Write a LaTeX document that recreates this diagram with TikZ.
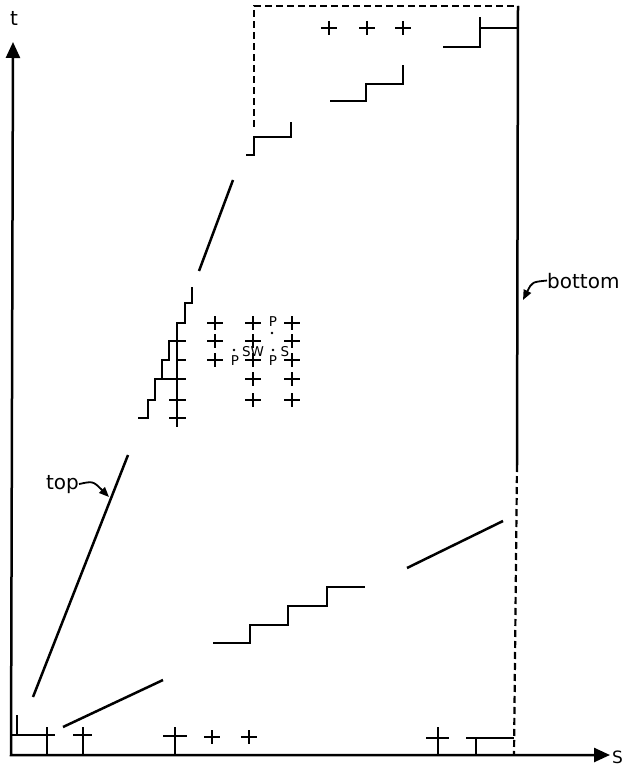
\documentclass[tikz,border=0pt]{standalone}
\usepackage{fontspec}
\setmainfont{DejaVu Sans}
\usetikzlibrary{arrows.meta}
\begin{document}
\begin{tikzpicture}[x=1pt,y=-1pt,
  ln/.style={line width=2.5pt},
  thn/.style={line width=2.2pt},
  dsh/.style={line width=2.2pt,dash pattern=on 7pt off 4pt},
  lbl/.style={font=\fontsize{20}{20}\selectfont,inner sep=0pt},
  sm/.style={font=\fontsize{13.5}{13.5}\selectfont,inner sep=0pt},
  dot/.style={circle,fill,inner sep=0pt,minimum size=2.8pt},
  crs/.pic={\draw[thn] (-8,0)--(8,0) (0,-7)--(0,7);},
  lead/.style={line width=1.8pt,-{Triangle[length=10pt,width=8pt]}}
]
\useasboundingbox (0,0) rectangle (627,767);
% axes
\coordinate (ytop) at (13,42);
\coordinate (orig) at (11,755);
\coordinate (xend) at (610,755);
\draw[ln,{Triangle[length=16pt,width=14pt]}-{Triangle[length=16pt,width=14pt]}] (ytop) -- (orig) -- (xend);
\node[lbl] (tlab) at (14,18) {t};
\node[lbl,font=\fontsize{17}{17}\selectfont,anchor=west] (slab) at (612,757) {S};
% boundary
\draw[ln] (518,6) -- (517,465);
\draw[dsh] (517,465) -- (514,755);
\draw[dsh] (254,127) -- (254,6) -- (518,6);
% top line segments
\draw[ln] (33,697) -- (128,455);
\draw[ln] (199,271) -- (233,180);
% bottom line segments
\draw[ln] (63,727) -- (163,680);
\draw[ln] (407,568) -- (503,521);
% staircases
\draw[ln] (246,155) -| (254,137) -| (291,122);
\draw[ln] (330,101) -| (366,84) -| (403,65);
\draw[ln] (443,47) -| (480,17);
\draw[ln] (480,28) -- (518,28);
\draw[ln] (213,643) -| (250,625) -| (288,606) -| (327,587) -- (365,587);
\draw[thn] (192,287) |- (185,303) |- (177,323) |- (169,341) |- (162,360) |- (155,379) |- (148,400) |- (138,418);
\draw[thn] (177,323) -- (177,427);
\draw[thn] (177,341) -- (186,341);
\draw[thn] (177,360) -- (186,360);
\draw[thn] (155,379) -- (186,379);
\draw[thn] (169,400) -- (186,400);
\draw[thn] (169,418) -- (186,418);
% bottom row
\draw[thn] (11,735) -- (55,735);
\draw[thn] (17,715) -- (17,735);
\draw[thn] (47,727) -- (47,755);
\draw[thn] (73,735) -- (92,735);
\draw[thn] (83,727) -- (83,755);
\draw[thn] (163,736) -- (187,736);
\draw[thn] (175,727) -- (175,755);
\pic at (212,737) {crs};
\pic at (249,737) {crs};
\draw[thn] (426,738) -- (449,738);
\draw[thn] (438,727) -- (438,755);
\draw[thn] (466,738) -- (514,738);
\draw[thn] (476,738) -- (476,755);
% top crosses
\pic at (329,28) {crs};
\pic at (367,28) {crs};
\pic at (403,28) {crs};
% middle crosses
\foreach \y in {323,341,360} {\pic at (215,\y) {crs};}
\foreach \y in {323,341,360,379,400} {\pic at (253,\y) {crs}; \pic at (292,\y) {crs};}
% letters
\node[sm] (p1) at (273,322) {P};
\node[dot] (d1) at (272,333) {};
\node[sm] (p2) at (235,361) {P};
\node[dot] (d2) at (234,350) {};
\node[sm] (sw) at (253,352) {SW};
\node[sm] (p3) at (273,361) {P};
\node[dot] (d3) at (273,350) {};
\node[sm] (s1) at (285,352) {S};
% labels with leaders
\node[lbl,anchor=base east] (toplab) at (79,489) {top};
\coordinate (toptip) at (109,497);
\draw[lead] (toplab.east) .. controls (93,481) .. (toptip);
\node[lbl,anchor=base west] (botlab) at (547,288) {bottom};
\coordinate (bottip) at (523,300);
\draw[lead] (botlab.west) .. controls (532,282) .. (bottip);
\end{tikzpicture}
\end{document}
